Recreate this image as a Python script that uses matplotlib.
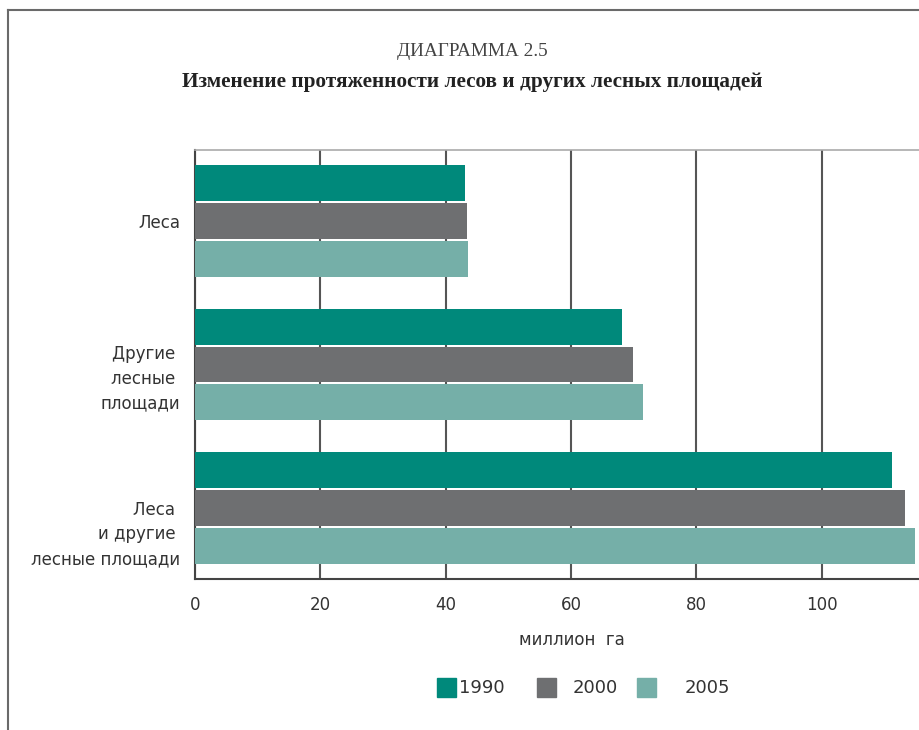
import matplotlib.pyplot as plt
from matplotlib.patches import Rectangle
from matplotlib.transforms import ScaledTranslation
import matplotlib.lines as mlines
import numpy as np

categories = ['Леса', 'Другие \nлесные \nплощади', 'Леса \nи другие \nлесные площади']
years = ['1990', '2000', '2005']
v1990 = [43.1, 68.1, 111.2]
v2000 = [43.4, 69.9, 113.3]
v2005 = [43.6, 71.5, 114.9]
colors = ['#00897b', '#6e6f71', '#75afa8']
xticks = [0, 20, 40, 60, 80, 100]

fig = plt.figure(figsize=(9.2, 7.3), dpi=100)
ax = fig.add_axes([195 / 920, 151 / 730, 1 - 195 / 920, 429 / 730])

# Rahmen links und oben
fig.add_artist(mlines.Line2D([8 / 920, 8 / 920], [0, 1 - 10 / 730],
                             transform=fig.transFigure, color='#6a6a6a', lw=1.5))
fig.add_artist(mlines.Line2D([8 / 920, 1], [1 - 10 / 730, 1 - 10 / 730],
                             transform=fig.transFigure, color='#6a6a6a', lw=1.5))

y = np.arange(len(categories))
step = 0.264
h = 0.25
for i, (vals, c) in enumerate(zip([v1990, v2000, v2005], colors)):
    ax.barh(y + (i - 1) * step, vals, height=h, color=c, zorder=3)

ax.set_xlim(0, 115.7)
ax.set_ylim(2.493, -0.493)
ax.set_xticks(xticks)
ax.set_yticks(y)
ax.set_yticklabels(categories, linespacing=1.46, ha='right')
ax.tick_params(axis='both', length=0, labelsize=12, colors='#333333')
ax.tick_params(axis='x', pad=12)
ax.tick_params(axis='y', pad=10.5)
ax.xaxis.grid(True, color='#555555', lw=1.5, zorder=0)

# mehrzeilige Beschriftungen sitzen etwas tiefer
for lab, dy in zip(ax.get_yticklabels()[1:], [9, 21]):
    lab.set_transform(lab.get_transform() + ScaledTranslation(0, -dy / 100, fig.dpi_scale_trans))

for side in ['left', 'bottom']:
    ax.spines[side].set_color('#444444')
    ax.spines[side].set_linewidth(1.5)
ax.spines['top'].set_color('#aaaaaa')
ax.spines['top'].set_linewidth(1.2)
ax.spines['right'].set_visible(False)

fig.text(472 / 920, 1 - 52 / 730, 'ДИАГРАММА 2.5', ha='center', va='center',
         family='Liberation Serif', fontsize=13.9, color='#444444')
fig.text(472 / 920, 1 - 82 / 730, 'Изменение протяженности лесов и других лесных площадей',
         ha='center', va='center', family='Liberation Serif', fontsize=15.3,
         fontweight='bold', color='#222222')

fig.text(572 / 920, 1 - 640 / 730, 'миллион  га', ha='center', va='center',
         fontsize=12, color='#333333')

# Legende
sq_x = [437, 537, 637]
txt_x = [459, 573, 685]
for sx, tx, lab, c in zip(sq_x, txt_x, years, colors):
    fig.add_artist(Rectangle((sx / 920, 1 - 697 / 730), 19 / 920, 19 / 730,
                             transform=fig.transFigure, color=c))
    fig.text(tx / 920, 1 - 688 / 730, lab, ha='left', va='center',
             fontsize=13, color='#333333')

fig.savefig('out.png', dpi=100)
